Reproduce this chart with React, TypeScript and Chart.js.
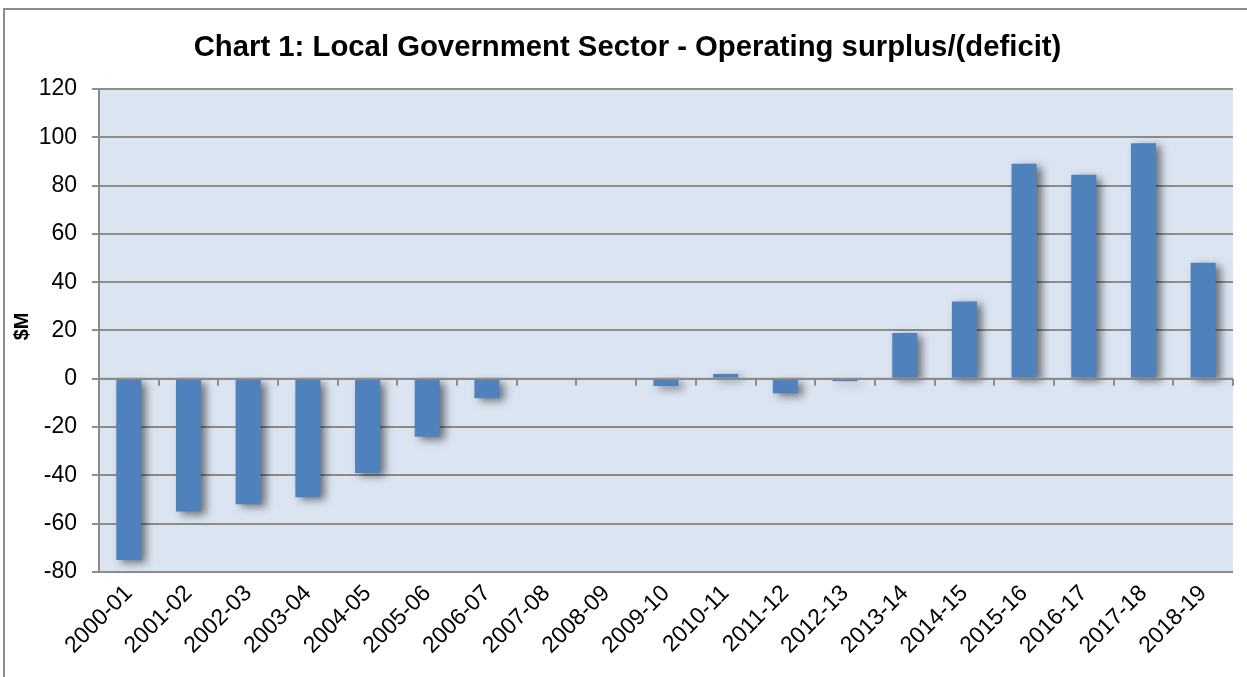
import React, { useEffect, useRef } from "react";
import { Chart, registerables } from "chart.js";

Chart.register(...registerables);

const categories = [
  "2000-01", "2001-02", "2002-03", "2003-04", "2004-05", "2005-06", "2006-07",
  "2007-08", "2008-09", "2009-10", "2010-11", "2011-12", "2012-13", "2013-14",
  "2014-15", "2015-16", "2016-17", "2017-18", "2018-19",
];
const surplus = [-75, -55, -52, -49, -39, -24, -8, 0, 0, -3, 2, -6, -1, 19, 32, 89, 84.5, 97.5, 48];
const yMin = -80;
const yMax = 120;
const yStep = 20;
const titleText = "Chart 1: Local Government Sector - Operating surplus/(deficit)";
const yTitle = "$M";

const W = 1247;
const H = 677;
const FONT = "Arial, 'Liberation Sans', sans-serif";

const framePlugin = {
  id: "frame",
  beforeDraw(chart: any) {
    const { ctx, chartArea } = chart;
    ctx.save();
    ctx.fillStyle = "#ffffff";
    ctx.fillRect(0, 0, chart.width, chart.height);
    ctx.strokeStyle = "#8c8c8c";
    ctx.lineWidth = 2;
    ctx.beginPath();
    ctx.moveTo(4, chart.height + 2);
    ctx.lineTo(4, 9);
    ctx.lineTo(chart.width + 2, 9);
    ctx.stroke();
    ctx.fillStyle = "#dbe5f1";
    ctx.fillRect(chartArea.left, chartArea.top, chartArea.right - chartArea.left, chartArea.bottom - chartArea.top);
    ctx.restore();
  },
  beforeDatasetsDraw(chart: any) {
    const ctx = chart.ctx;
    ctx.save();
    ctx.shadowColor = "rgba(0,0,0,0.5)";
    ctx.shadowBlur = 8;
    ctx.shadowOffsetX = 5;
    ctx.shadowOffsetY = 3;
  },
  afterDatasetsDraw(chart: any) {
    const ctx = chart.ctx;
    ctx.restore();
    const x = chart.scales.x;
    const y = chart.scales.y;
    const y0 = y.getPixelForValue(0);
    ctx.save();
    ctx.strokeStyle = "#8c8c8c";
    ctx.lineWidth = 2;
    ctx.beginPath();
    ctx.moveTo(chart.chartArea.left, y0);
    ctx.lineTo(chart.chartArea.right, y0);
    for (let i = 1; i <= categories.length; i++) {
      const px = Math.round(x.getPixelForValue(i - 0.5));
      ctx.moveTo(px, y0);
      ctx.lineTo(px, y0 + 7);
    }
    ctx.stroke();
    // y-axis title
    const cy = (chart.chartArea.top + chart.chartArea.bottom) / 2 - 4;
    ctx.translate(22, cy);
    ctx.rotate(-Math.PI / 2);
    ctx.fillStyle = "#000000";
    ctx.font = `bold 20px ${FONT}`;
    ctx.textAlign = "center";
    ctx.textBaseline = "middle";
    ctx.fillText(yTitle, 0, 0);
    ctx.restore();
  },
};

export default function App() {
  const ref = useRef<HTMLCanvasElement | null>(null);
  useEffect(() => {
    document.body.style.margin = "0";
    document.body.style.overflow = "hidden";
    const canvas = ref.current!;
    const chart = new Chart(canvas, {
      type: "bar",
      data: {
        labels: categories,
        datasets: [
          {
            data: surplus,
            backgroundColor: "#4f81bd",
            borderWidth: 0,
            categoryPercentage: 1,
            barPercentage: 0.42,
          },
        ],
      },
      options: {
        responsive: false,
        animation: false,
        devicePixelRatio: 1,
        layout: { padding: { left: 22, right: 14, top: 0, bottom: 0 } },
        plugins: {
          legend: { display: false },
          tooltip: { enabled: false },
          title: {
            display: true,
            text: titleText,
            color: "#000000",
            font: { family: FONT, size: 29.3, weight: "bold", lineHeight: 1.2 },
            padding: { top: 30, bottom: 23.8 },
          },
        },
        scales: {
          x: {
            grid: { display: false },
            border: { display: false },
            ticks: {
              color: "#000000",
              font: { family: FONT, size: 23 },
              minRotation: 45,
              maxRotation: 45,
              autoSkip: false,
              padding: 0,
            },
            afterFit(scale: any) {
              scale.height = 105;
            },
          },
          y: {
            min: yMin,
            max: yMax,
            grid: {
              color: "#8c8c8c",
              lineWidth: 2,
              tickLength: 7,
              drawOnChartArea: true,
            },
            border: { display: true, color: "#8c8c8c", width: 2 },
            ticks: {
              stepSize: yStep,
              color: "#000000",
              font: { family: FONT, size: 23 },
              padding: 15,
            },
            title: { display: false },
            afterFit(scale: any) {
              scale.width = 77;
            },
          },
        },
      },
      plugins: [framePlugin],
    });
    return () => chart.destroy();
  }, []);
  return (
    <canvas
      ref={ref}
      width={W}
      height={H}
      style={{ position: "fixed", left: 0, top: 0, width: W, height: H, display: "block" }}
    />
  );
}
